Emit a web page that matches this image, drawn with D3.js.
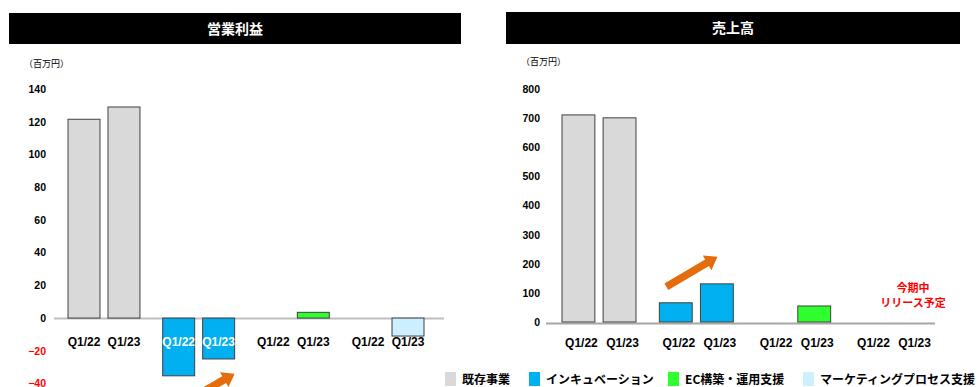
<!DOCTYPE html>
<html>
<head>
<meta charset="utf-8">
<script src="https://cdn.jsdelivr.net/npm/d3@7"></script>
<style>
  body { margin: 0; background: #fff; }
  svg { display: block; font-family: "Noto Sans CJK JP", "Liberation Sans", Arial, sans-serif; }
  .tick text { font-family: "Liberation Sans", Arial, sans-serif; font-weight: bold; }
</style>
</head>
<body>
<svg id="chart" width="978" height="387"></svg>
<script>
// data
var segments = ['既存事業', 'インキュベーション', 'EC構築・運用支援', 'マーケティングプロセス支援'];
var periods = ['Q1/22', 'Q1/23'];
var profit = [[121.5, 129], [-35.3, -25], [null, 3.5], [null, -11]];
var sales = [[711, 701], [66, 131], [null, 55], [null, null]];
var profitTicks = [-40, -20, 0, 20, 40, 60, 80, 100, 120, 140];
var salesTicks = [0, 100, 200, 300, 400, 500, 600, 700, 800];
var colors = ['#d9d9d9', '#00b0f0', '#2eff2e', '#ccf0ff'];
var unitLabel = '（百万円）';
var pendingNote = ['今期中', 'リリース予定'];

var svg = d3.select('#chart');

function drawPanel(opt) {
  var g = svg.append('g');

  // title bar
  g.append('rect')
    .attr('x', opt.title.x).attr('y', opt.title.y)
    .attr('width', opt.title.w).attr('height', opt.title.h)
    .attr('fill', '#000');
  g.append('text')
    .attr('x', opt.title.x + opt.title.w / 2)
    .attr('y', opt.title.y + opt.title.h / 2 + 5)
    .attr('text-anchor', 'middle')
    .attr('fill', '#fff')
    .style('font-size', '14px')
    .style('font-weight', 'bold')
    .text(opt.title.text);

  g.append('text')
    .attr('x', opt.unitX).attr('y', opt.unitY)
    .style('font-size', '9px')
    .attr('fill', '#000')
    .text(unitLabel);

  var y = d3.scaleLinear().domain(opt.domain).range(opt.yRange);
  var x0 = d3.scaleBand().domain(segments).range(opt.xRange).paddingInner(0.24).paddingOuter(0);
  var x1 = d3.scaleBand().domain(periods).range([0, x0.bandwidth()]).paddingInner(0.2);

  var axis = g.append('g')
    .attr('transform', 'translate(' + opt.axisX + ',0)')
    .call(d3.axisLeft(y).tickValues(opt.ticks).tickSize(0).tickPadding(0));
  axis.select('.domain').remove();
  axis.selectAll('text')
    .style('font-size', '10.5px')
    .attr('fill', function(d) { return d < 0 ? '#ff0000' : '#000'; });

  // baseline
  g.append('line')
    .attr('x1', opt.baseX[0]).attr('x2', opt.baseX[1])
    .attr('y1', y(0) + opt.baseOff).attr('y2', y(0) + opt.baseOff)
    .attr('stroke', opt.baseColor).attr('stroke-width', 2);

  var bars = [];
  opt.values.forEach(function(row, i) {
    row.forEach(function(v, j) {
      bars.push({ seg: segments[i], per: periods[j], v: v, i: i });
    });
  });

  g.selectAll('rect.bar')
    .data(bars.filter(function(d) { return d.v !== null; }))
    .enter()
    .append('rect')
    .attr('class', 'bar')
    .attr('x', function(d) { return x0(d.seg) + x1(d.per); })
    .attr('width', x1.bandwidth())
    .attr('y', function(d) { return Math.min(y(d.v), y(0)); })
    .attr('height', function(d) { return Math.abs(y(d.v) - y(0)); })
    .attr('fill', function(d) { return colors[d.i]; })
    .attr('stroke', '#404040')
    .attr('stroke-width', 1);

  g.selectAll('text.cat')
    .data(bars)
    .enter()
    .append('text')
    .attr('class', 'cat')
    .attr('x', function(d) { return x0(d.seg) + x1(d.per) + x1.bandwidth() / 2 + opt.labelShift; })
    .attr('y', opt.labelY)
    .attr('text-anchor', 'middle')
    .style('font-family', '"Liberation Sans", Arial, sans-serif')
    .style('font-size', '12px')
    .style('font-weight', 'bold')
    .attr('fill', function(d) { return (opt.whiteLabels && d.i === 1) ? '#fff' : '#000'; })
    .text(function(d) { return d.per; });

  // growth arrow
  var a = opt.arrow;
  var seg = segments[1];
  var p0 = [x0(seg) + x1(periods[0]) + a.dx0, y(a.v0)];
  var p1 = [x0(seg) + x1(periods[1]) + a.dx1, y(a.v1)];
  drawArrow(g, p0, p1);

  return { x0: x0, x1: x1, y: y };
}

function drawArrow(g, p0, p1) {
  var dx = p1[0] - p0[0], dy = p1[1] - p0[1];
  var len = Math.sqrt(dx * dx + dy * dy);
  var ux = dx / len, uy = dy / len, nx = -uy, ny = ux;
  var sw = 3.8, hw = 8.5, hl = 12;
  var bx = p1[0] - ux * hl, by = p1[1] - uy * hl;
  var pts = [
    [p0[0] + nx * sw, p0[1] + ny * sw],
    [bx + nx * sw, by + ny * sw],
    [bx + nx * hw, by + ny * hw],
    p1,
    [bx - nx * hw, by - ny * hw],
    [bx - nx * sw, by - ny * sw],
    [p0[0] - nx * sw, p0[1] - ny * sw]
  ];
  g.append('path')
    .attr('d', d3.line()(pts) + 'Z')
    .attr('fill', '#e46c0a');
}

drawPanel({
  title: { x: 9, y: 13, w: 452, h: 31, text: '営業利益' },
  unitX: 24, unitY: 67,
  domain: [-40, 140], yRange: [383.5, 89],
  xRange: [68, 424], ticks: profitTicks, axisX: 46,
  baseX: [54, 444], baseOff: 0.5, baseColor: '#bfbfbf',
  values: profit, labelY: 346, labelShift: 0, whiteLabels: true,
  arrow: { dx0: 19, v0: -52.5, dx1: 32, v1: -34 }
});

var right = drawPanel({
  title: { x: 506, y: 12, w: 454, h: 32, text: '売上高' },
  unitX: 521, unitY: 65,
  domain: [0, 800], yRange: [322, 89],
  xRange: [562, 928], ticks: salesTicks, axisX: 540,
  baseX: [546, 935], baseOff: 1.5, baseColor: '#a6a6a6',
  values: sales, labelY: 347, labelShift: 3, whiteLabels: false,
  arrow: { dx0: 7, v0: 121, dx1: 17, v1: 224 }
});

// note for the segment not yet released
var noteX = right.x0(segments[3]) + right.x0.bandwidth() / 2 + 22;
svg.append('g').selectAll('text')
  .data(pendingNote)
  .enter()
  .append('text')
  .attr('x', noteX)
  .attr('y', function(d, i) { return right.y(0) - 30 + i * 15; })
  .attr('text-anchor', 'middle')
  .attr('fill', '#ff0000')
  .style('font-size', '11px')
  .style('font-weight', 'bold')
  .text(function(d) { return d; });

// legend
var legendX = [445, 529, 668, 803];
var lg = svg.append('g').selectAll('g')
  .data(segments)
  .enter()
  .append('g')
  .attr('transform', function(d, i) { return 'translate(' + legendX[i] + ',372)'; });
lg.append('rect')
  .attr('width', 11).attr('height', 14)
  .attr('fill', function(d, i) { return colors[i]; });
lg.append('text')
  .attr('x', 17).attr('y', 11.5)
  .style('font-size', '12px')
  .style('font-weight', 'bold')
  .attr('fill', '#000')
  .text(function(d) { return d; });
</script>
</body>
</html>
